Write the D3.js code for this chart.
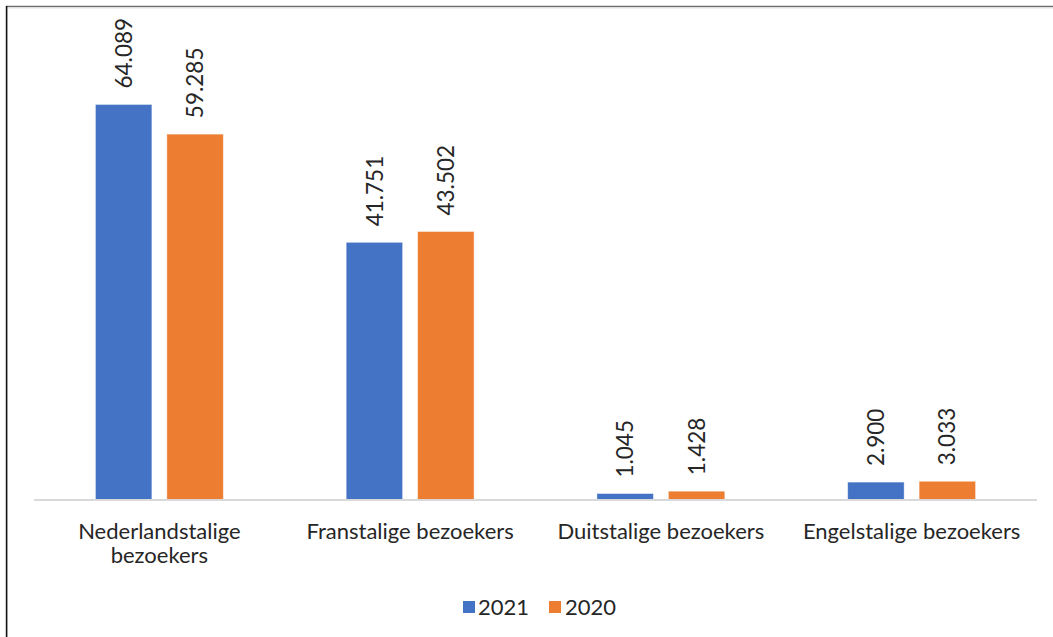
<!DOCTYPE html>
<html>
<head>
<meta charset="utf-8">
<script src="https://cdn.jsdelivr.net/npm/d3@7"></script>
<style>
  html, body { margin: 0; padding: 0; background: #fff; }
  svg { display: block; }
  text { font-family: Lato, "Open Sans", sans-serif; fill: #262626; }
</style>
</head>
<body>
<svg id="chart" width="1053" height="637"></svg>
<script>
// Bezoekers per taalgroep, 2021 versus 2020
const categories = [
  ["Nederlandstalige", "bezoekers"],
  ["Franstalige bezoekers"],
  ["Duitstalige bezoekers"],
  ["Engelstalige bezoekers"]
];
const seriesNames = ["2021", "2020"];
const values2021 = [64089, 41751, 1045, 2900];
const values2020 = [59285, 43502, 1428, 3033];
const colors = ["#4472c4", "#ed7d31"];

const W = 1053, H = 637;
const svg = d3.select("#chart");

// Dutch number formatting: dot as thousands separator
const nl = d3.formatLocale({ decimal: ",", thousands: ".", grouping: [3], currency: ["€", ""] });
const fmt = nl.format(",d");

const rows = categories.map((c, i) => ({
  cat: i,
  label: c,
  vals: [values2021[i], values2020[i]]
}));

const baseline = 500;
const x0 = d3.scaleBand().domain(d3.range(categories.length)).range([34, 1037]).padding(0);
const x1 = d3.scaleBand().domain(d3.range(seriesNames.length))
  .range([0, x0.bandwidth()]).paddingInner(0.21).paddingOuter(0.86);
const y = d3.scaleLinear().domain([0, 70000]).range([baseline, 68]);

// frame lines
svg.append("line").attr("x1", 6).attr("x2", W).attr("y1", 6.5).attr("y2", 6.5)
  .attr("stroke", "#6e6e6e").attr("stroke-width", 1.6);
svg.append("line").attr("x1", 6).attr("x2", W).attr("y1", 8).attr("y2", 8)
  .attr("stroke", "#e6e6e6").attr("stroke-width", 1.2);
svg.append("line").attr("x1", 6.6).attr("x2", 6.6).attr("y1", 6).attr("y2", H)
  .attr("stroke", "#111").attr("stroke-width", 1.6);

// bars
const groups = svg.append("g").selectAll("g").data(rows).join("g")
  .attr("transform", d => `translate(${x0(d.cat)},0)`);

groups.selectAll("rect").data(d => d.vals.map((v, s) => ({ v, s }))).join("rect")
  .attr("x", d => x1(d.s))
  .attr("width", x1.bandwidth())
  .attr("y", d => y(d.v))
  .attr("height", d => baseline - y(d.v))
  .attr("fill", d => colors[d.s])
  .attr("stroke", "#fff").attr("stroke-opacity", 0.5).attr("stroke-width", 0.8);

// value labels, rotated
groups.selectAll("text.val").data(d => d.vals.map((v, s) => ({ v, s }))).join("text")
  .attr("class", "val")
  .attr("transform", d => `translate(${x1(d.s) + x1.bandwidth() / 2},${y(d.v) - 16}) rotate(-90)`)
  .attr("dy", "0.36em")
  .attr("text-anchor", "start")
  .style("font-size", "22.5px")
  .text(d => fmt(d.v));

// category axis baseline
svg.append("line").attr("x1", 34).attr("x2", 1037).attr("y1", baseline).attr("y2", baseline)
  .attr("stroke", "#d9d9d9").attr("stroke-width", 2);

// category labels, one text per line
const lineH = 24.5;
const catGroups = svg.append("g").selectAll("g").data(rows).join("g");
catGroups.selectAll("text").data(d => d.label.map((t, i) => ({ t, i, x: x0(d.cat) + x0.bandwidth() / 2 }))).join("text")
  .attr("x", d => d.x)
  .attr("y", d => 538.5 + d.i * lineH)
  .attr("text-anchor", "middle")
  .style("font-size", "22px")
  .text(d => d.t);

// legend
const legendItems = [
  { name: seriesNames[0], color: colors[0], sx: 463, tx: 478 },
  { name: seriesNames[1], color: colors[1], sx: 549, tx: 565 }
];
const lg = svg.append("g").selectAll("g").data(legendItems).join("g");
lg.append("rect").attr("x", d => d.sx).attr("y", 601).attr("width", 12).attr("height", 12)
  .attr("fill", d => d.color);
lg.append("text").attr("x", d => d.tx).attr("y", 615)
  .style("font-size", "22px").text(d => d.name);
</script>
</body>
</html>
